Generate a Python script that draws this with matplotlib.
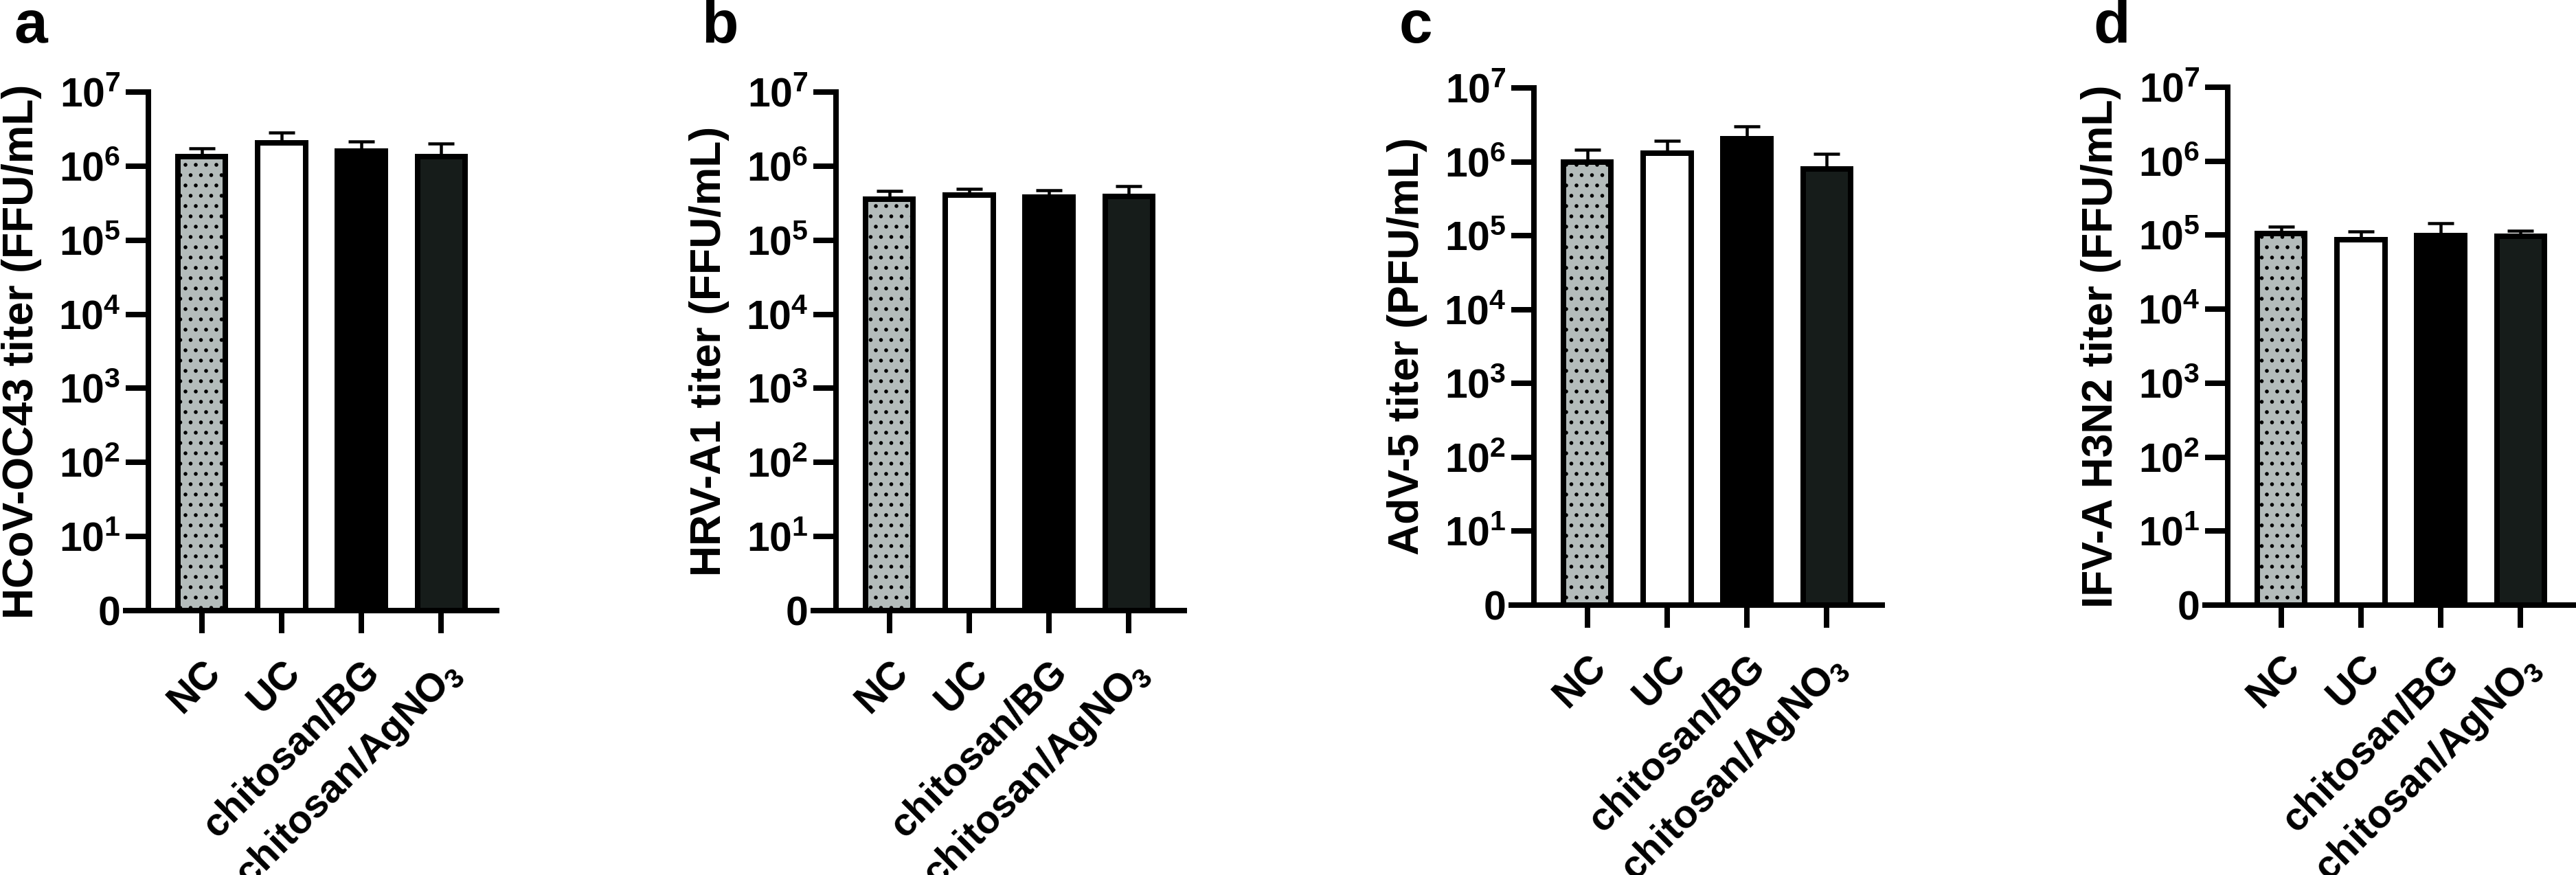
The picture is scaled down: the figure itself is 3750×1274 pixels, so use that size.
import matplotlib
matplotlib.use('Agg')
import matplotlib.pyplot as plt
import numpy as np
from matplotlib.ticker import NullLocator
from matplotlib.transforms import ScaledTranslation

plt.rcParams['font.family'] = 'Liberation Sans'
plt.rcParams['font.weight'] = 'bold'
plt.rcParams['mathtext.fontset'] = 'custom'
plt.rcParams['mathtext.rm'] = 'Liberation Sans'
plt.rcParams['mathtext.bf'] = 'Liberation Sans:bold'
plt.rcParams['mathtext.it'] = 'Liberation Sans:italic'
plt.rcParams['hatch.linewidth'] = 2.0

DPI = 90
W, H = 3750, 1274
PX = 72 / DPI  # points per pixel

# data
categories = ['NC', 'UC', 'chitosan/BG', r'chitosan/AgNO$_3$']
panel_letters = ['a', 'b', 'c', 'd']
ylabels = ['HCoV-OC43 titer (FFU/mL)', 'HRV-A1 titer (FFU/mL)',
           'AdV-5 titer (PFU/mL)', 'IFV-A H3N2 titer (FFU/mL)']
hcov_mean = [1.33e6, 2.04e6, 1.58e6, 1.33e6]
hcov_sd = [0.42e6, 0.81e6, 0.59e6, 0.67e6]
hrv_mean = [3.6e5, 4.05e5, 3.85e5, 3.9e5]
hrv_sd = [0.98e5, 0.92e5, 0.88e5, 1.43e5]
adv_mean = [1.0e6, 1.3e6, 2.05e6, 0.8e6]
adv_sd = [0.45e6, 0.62e6, 0.95e6, 0.48e6]
ifv_mean = [1.05e5, 0.87e5, 0.99e5, 0.96e5]
ifv_sd = [0.25e5, 0.26e5, 0.46e5, 0.18e5]
means = [hcov_mean, hrv_mean, adv_mean, ifv_mean]
sds = [hcov_sd, hrv_sd, adv_sd, ifv_sd]

ytick_vals = [1, 1e1, 1e2, 1e3, 1e4, 1e5, 1e6, 1e7]
ytick_labels = ['0'] + [r'$\mathbf{10^{%d}}$' % k for k in range(1, 8)]

# styles
fills = ['#b4bcbb', 'white', 'black', '#161c1a']
hatches = ['.', None, None, None]

# axes boxes in pixels: left, top, bottom
boxes = [(216, 134, 889), (1217, 134, 889), (2233, 128, 881), (3243, 127, 881)]
ax_w = 507
cat_px = 116.3
x_lo = -77.5 / cat_px
x_hi = 3 + 80.5 / cat_px

fig = plt.figure(figsize=(W / DPI, H / DPI), dpi=DPI)

for i in range(4):
    left, top, bottom = boxes[i]
    ax = fig.add_axes([left / W, (H - bottom) / H, ax_w / W, (bottom - top) / H])
    x = np.arange(len(categories))
    ax.errorbar(x, means[i], yerr=[np.zeros(4), sds[i]], fmt='none', ecolor='black',
                elinewidth=4.5 * PX, capsize=19 * PX, capthick=4.5 * PX, zorder=1)
    bars = ax.bar(x, np.array(means[i]) - 1, bottom=1, width=0.6, color=fills,
                  edgecolor='black', linewidth=8 * PX, zorder=2)
    for b, h in zip(bars, hatches):
        if h:
            b.set_hatch(h)
    ax.set_yscale('log')
    ax.set_ylim(1, 1e7)
    ax.set_xlim(x_lo, x_hi)
    ax.set_yticks(ytick_vals)
    ax.set_yticklabels(ytick_labels)
    ax.yaxis.set_minor_locator(NullLocator())
    ax.set_xticks(x)
    ax.set_xticklabels(categories, rotation=45, ha='right', va='top',
                       rotation_mode='anchor')
    for lab in ax.get_xticklabels():
        lab.set_transform(lab.get_transform() + ScaledTranslation(9 / DPI, 0, fig.dpi_scale_trans))
    ax.tick_params(axis='both', direction='out', length=33 * PX, width=8 * PX)
    ax.tick_params(axis='y', labelsize=47, pad=6)
    ax.tick_params(axis='x', labelsize=46, pad=30 * PX)
    for s in ['top', 'right']:
        ax.spines[s].set_visible(False)
    for s in ['left', 'bottom']:
        ax.spines[s].set_linewidth(8 * PX)
    ax.spines['bottom'].set_bounds(x_lo - 33 / cat_px, x_hi)
    ax.set_ylabel(ylabels[i], fontsize=50, fontweight='bold')
    ax.yaxis.set_label_coords(-0.305, 0.5)
    fig.text((left - 196) / W, (H - 62) / H, panel_letters[i], fontsize=70,
             fontweight='bold', ha='left', va='baseline')

fig.savefig('out.png', dpi=DPI)
